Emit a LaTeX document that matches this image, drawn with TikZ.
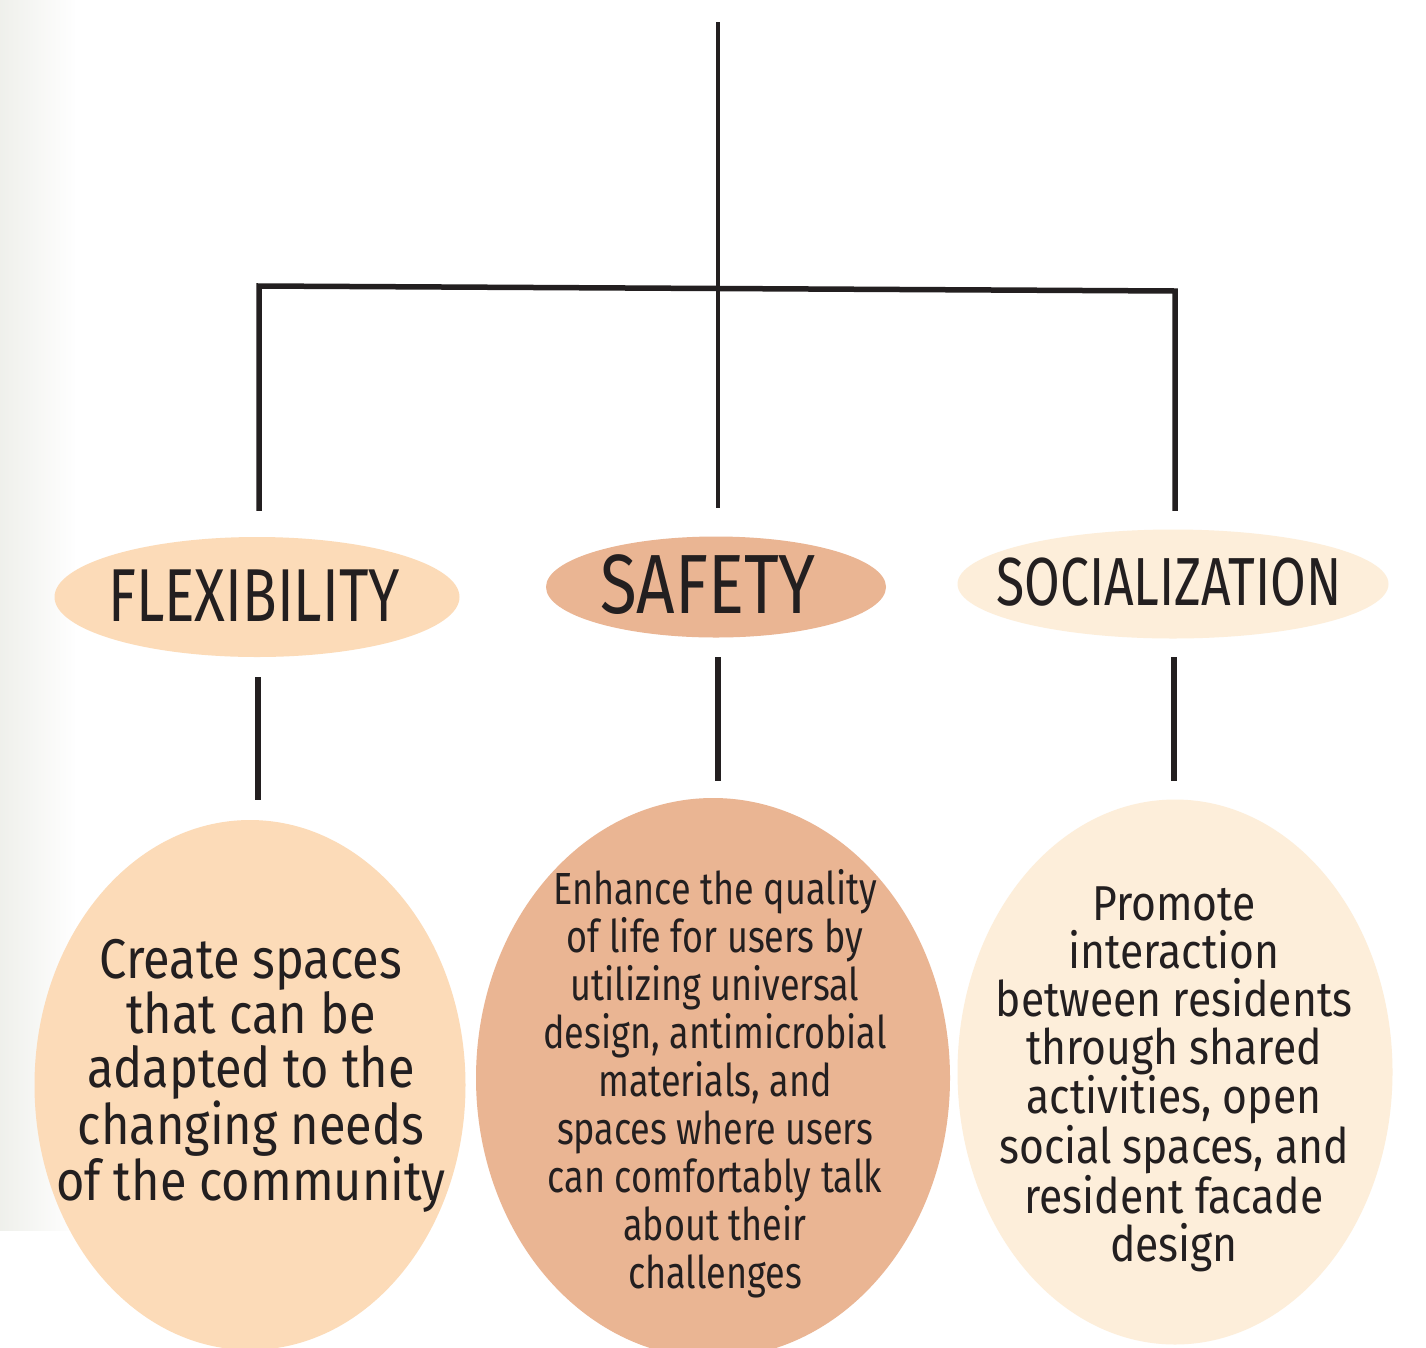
\documentclass[tikz,border=0pt]{standalone}
\usepackage{fontspec}
\newfontfamily\cond{Fira Sans}[FakeStretch=0.76]
\newfontfamily\condm{Fira Sans}[FakeStretch=0.80]
\newfontfamily\condb{Fira Sans}[FakeStretch=0.87]
\usetikzlibrary{shapes.geometric}
\definecolor{flexc}{HTML}{FCDBB8}
\definecolor{safec}{HTML}{EAB593}
\definecolor{socc}{HTML}{FDEEDA}
\definecolor{ink}{HTML}{231F20}
\definecolor{mist}{HTML}{D2D5C8}
\tikzset{
  oval/.style={ellipse, draw=none, inner sep=0pt, align=center, text=ink},
  link/.style={draw=ink, line width=5.5pt},
}
\begin{document}
\begin{tikzpicture}[x=1pt,y=-1pt]
\useasboundingbox (0,0) rectangle (1426,1347);
\clip (0,0) rectangle (1426,1347);
\fill[white] (0,0) rectangle (1426,1347);
\shade[left color=mist, right color=white, opacity=0.35] (0,0) rectangle (75,1230);
% header ovals
\node[oval, fill=flexc, minimum width=405, minimum height=120] (fl) at (257,597) {};
\node[text=ink, font=\cond\fontsize{75}{80}\selectfont] (flt) at (254,596) {FLEXIBILITY};
\node[oval, fill=safec, minimum width=340, minimum height=101] (sa) at (716,587) {};
\node[text=ink, font=\condm\fontsize{84}{88}\selectfont] (sat) at (708,585) {SAFETY};
\node[oval, fill=socc, minimum width=431, minimum height=109] (so) at (1173,584) {};
\node[text=ink, font=\cond\fontsize{68}{76}\selectfont] (sot) at (1169,582) {SOCIALIZATION};
% body ovals
\node[oval, fill=flexc, minimum width=431, minimum height=530] (flb) at (250,1085) {};
\node[text=ink, align=center, font=\condb\fontsize{56}{54.5}\selectfont] (flbt) at (251,1076)
 {Create spaces\\that can be\\adapted to the\\changing needs\\of the community};
\node[oval, fill=safec, minimum width=474, minimum height=560] (sab) at (713,1078) {};
\node[text=ink, align=center, font=\condm\fontsize{45}{48}\selectfont] (sabt) at (715,1084)
 {Enhance the quality\\of life for users by\\utilizing universal\\design, antimicrobial\\materials, and\\spaces where users\\can comfortably talk\\about their\\challenges};
\node[oval, fill=socc, minimum width=435, minimum height=545] (sob) at (1175,1072) {};
\node[text=ink, align=center, font=\condb\fontsize{49}{48}\selectfont] (sobt) at (1174,1079)
 {Promote\\interaction\\between residents\\through shared\\activities, open\\social spaces, and\\resident facade\\design};
% connector coordinates
\coordinate (top) at (718,22);
\coordinate (jn) at (718,288.5);
\coordinate (lt) at (259,286);
\coordinate (rt) at (1175,291);
\coordinate (fl-in) at (259,508);
\coordinate (sa-in) at (718,508);
\coordinate (so-in) at (1175,508);
\coordinate (fl-out) at (258,677);
\coordinate (flb-in) at (258,800);
\coordinate (sa-out) at (718,657);
\coordinate (sab-in) at (718,781);
\coordinate (so-out) at (1174,657);
\coordinate (sob-in) at (1174,781);
% connectors
\draw[link, line width=4.5pt] (top) -- (sa-in);
\draw[link, line cap=rect] (fl-in) -- (lt) -- (jn) -- (rt) -- (so-in);
\draw[link] (fl-out) -- (flb-in);
\draw[link] (sa-out) -- (sab-in);
\draw[link] (so-out) -- (sob-in);
\end{tikzpicture}
\end{document}
